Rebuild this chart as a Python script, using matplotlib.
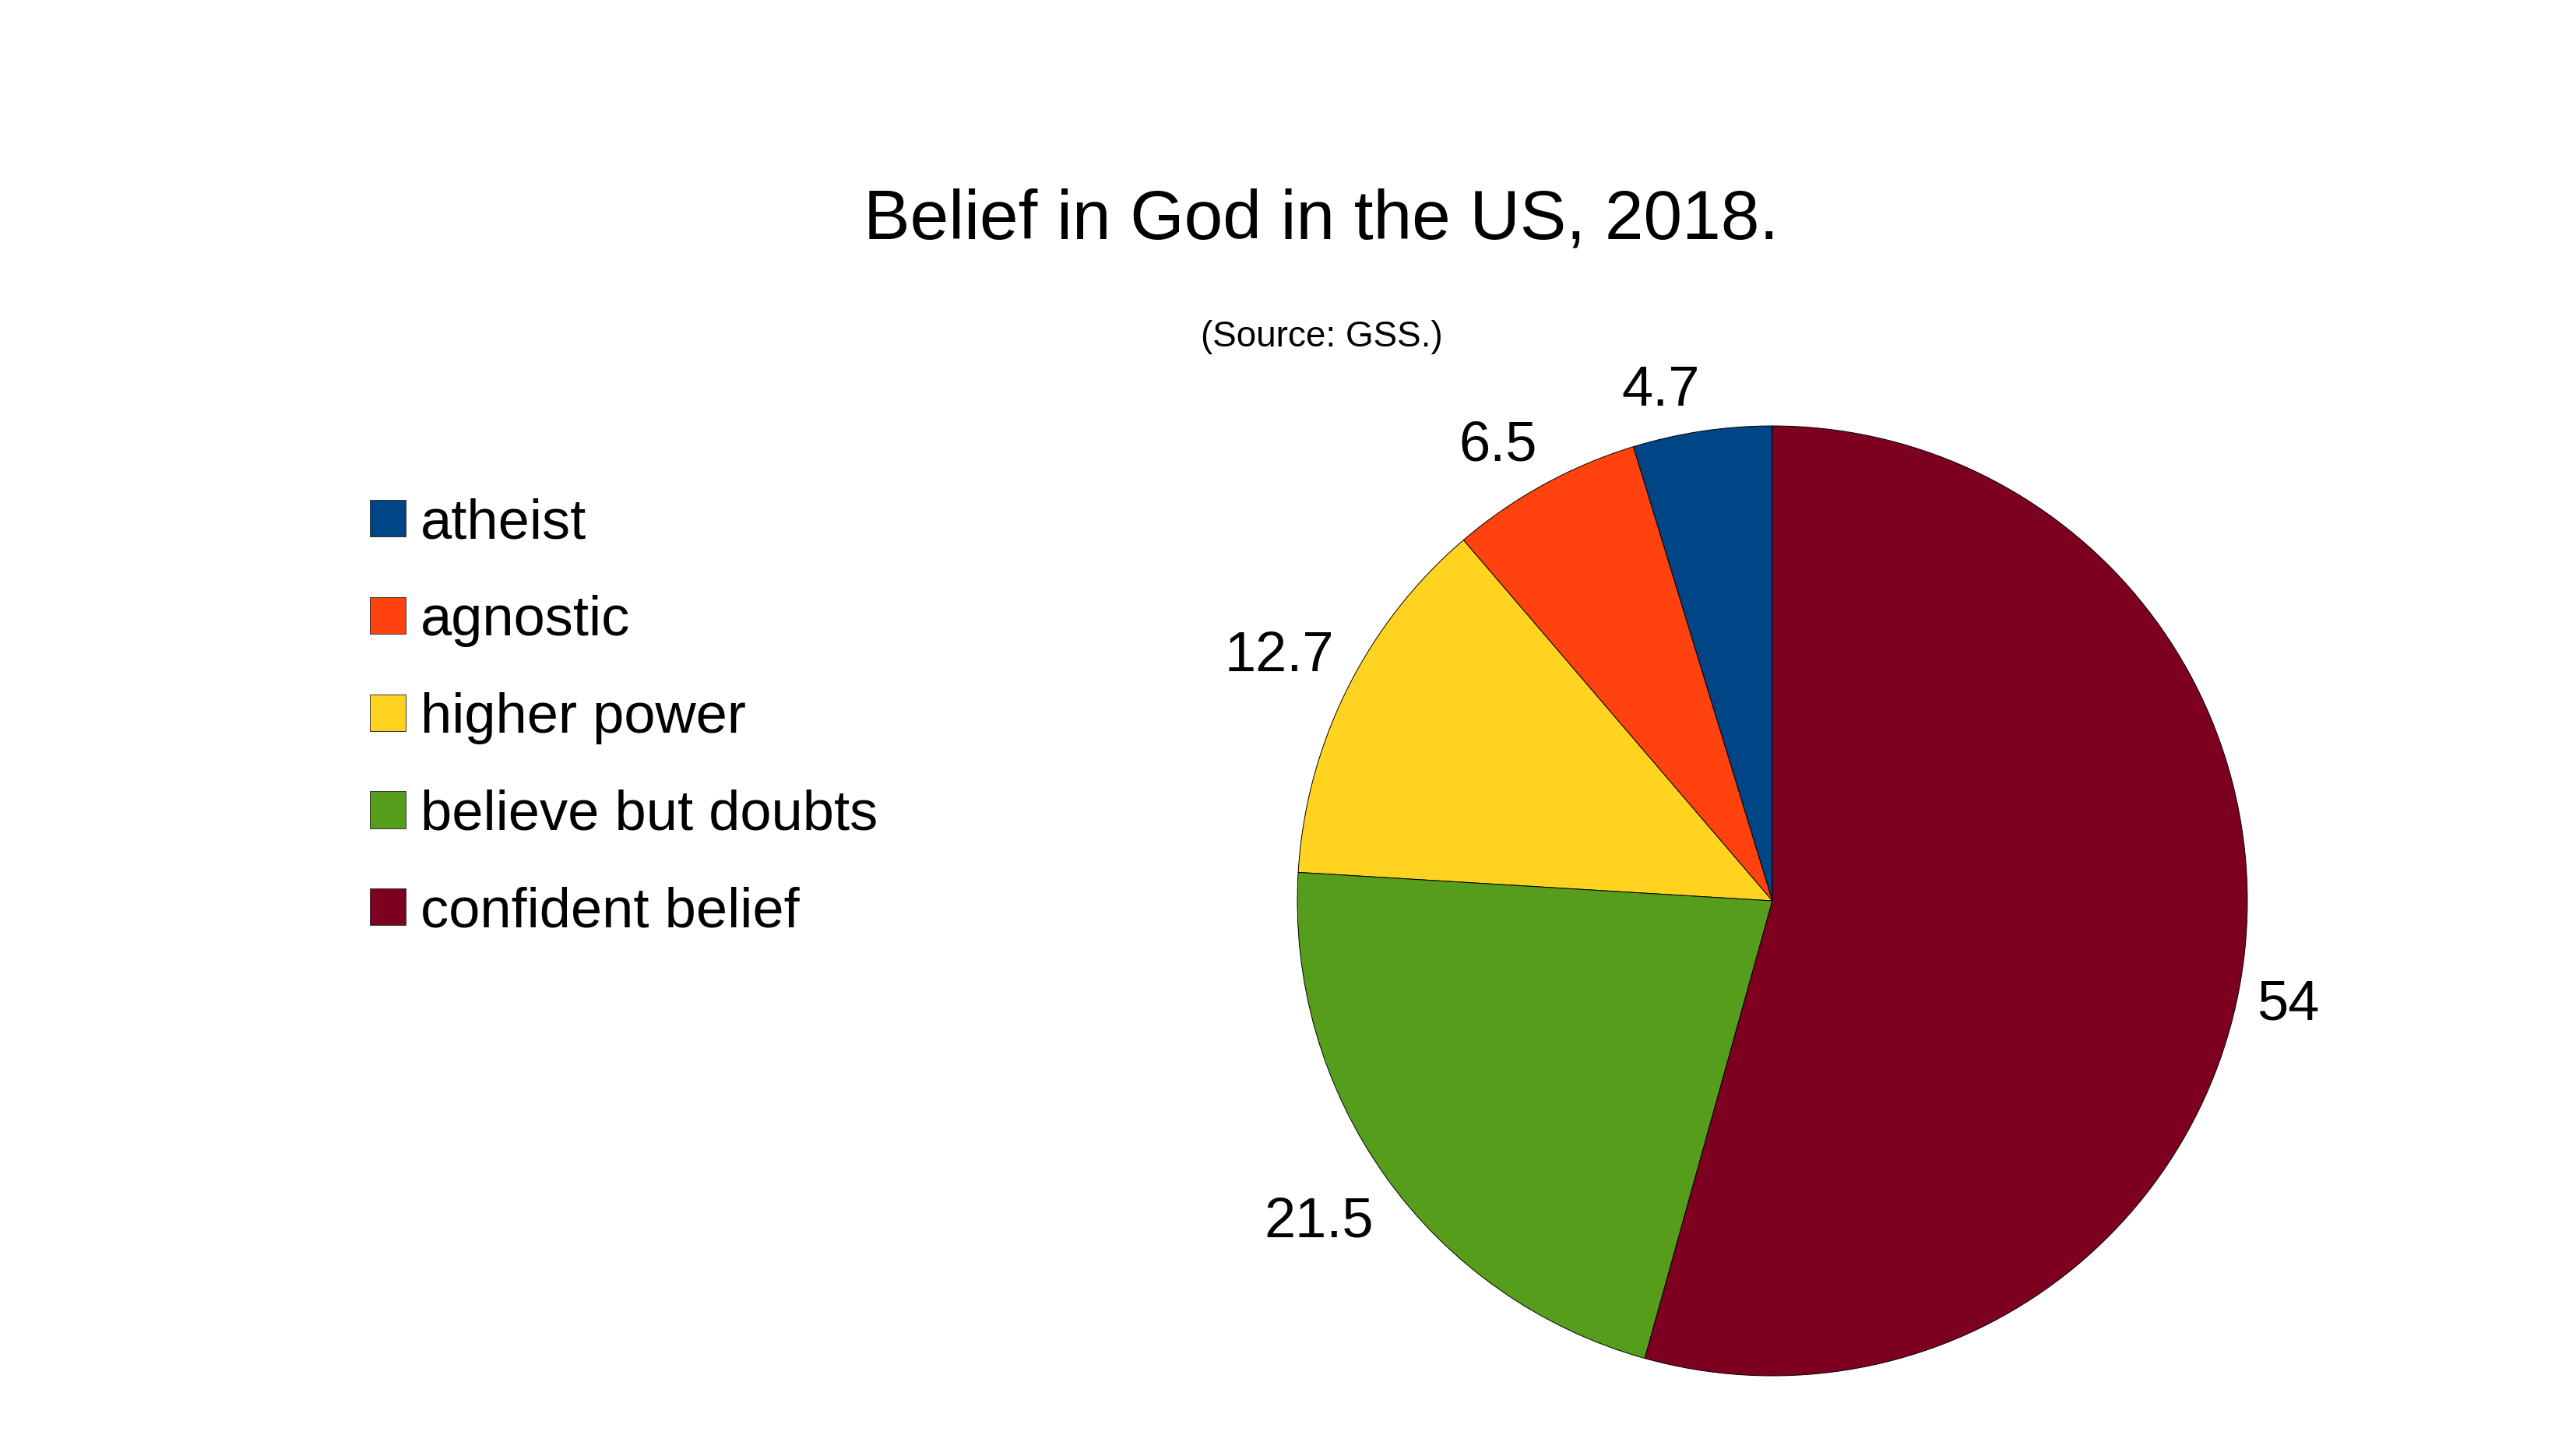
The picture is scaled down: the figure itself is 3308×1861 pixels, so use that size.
import numpy as np
import matplotlib
matplotlib.use("Agg")
import matplotlib.pyplot as plt
from matplotlib.transforms import offset_copy

plt.rcParams['font.family'] = ['Liberation Sans', 'DejaVu Sans']

# data
categories = ["atheist", "agnostic", "higher power", "believe but doubts", "confident belief"]
values = [4.7, 6.5, 12.7, 21.5, 54]
value_labels = ["4.7", "6.5", "12.7", "21.5", "54"]
colors = ["#004586", "#ff420e", "#ffd320", "#579d1c", "#7e0021"]

W, H = 3308, 1861
fig = plt.figure(figsize=(W / 100, H / 100), dpi=100)

# pie axes: centre (2276, 1157) px from top-left, radius 610 px
cx, cy, r_px = 2276, 1157, 610
lim = 1.1
side = 2 * r_px * lim
ax = fig.add_axes([(cx - side / 2) / W, (H - cy - side / 2) / H, side / W, side / H])

wedges, _ = ax.pie(values, colors=colors, startangle=90, counterclock=True,
                   wedgeprops=dict(edgecolor="black", linewidth=0.7))
ax.set_xlim(-lim, lim)
ax.set_ylim(-lim, lim)
ax.set_aspect("equal")
ax.axis("off")

# value labels: nearest corner of the text box just outside the rim
below = offset_copy(ax.transData, fig=fig, y=-15, units="dots")
for w, txt in zip(wedges, value_labels):
    mid = np.deg2rad((w.theta1 + w.theta2) / 2)
    c, s = np.cos(mid), np.sin(mid)
    ax.text(1.03 * c, 1.03 * s, txt, fontsize=52,
            ha="left" if c > 0 else "right",
            va="top" if s < 0 else "bottom",
            transform=below if s < 0 else ax.transData)

# titles
fig.text(1697 / W, 1 - 307 / H, "Belief in God in the US, 2018.", fontsize=64.3,
         ha="center", va="baseline")
fig.text(1697 / W, 1 - 445 / H, "(Source: GSS.)", fontsize=33,
         ha="center", va="baseline")

# legend
leg = fig.legend(wedges, categories, loc="upper left",
                 bbox_to_anchor=(475 / W, 1 - 639 / H),
                 frameon=False, fontsize=52, borderpad=0, borderaxespad=0,
                 handlelength=0.63, handleheight=0.63, handletextpad=0.27,
                 labelspacing=0.8)
for h in leg.legend_handles:
    h.set_edgecolor("#333333")
    h.set_linewidth(0.7)

fig.savefig("out.png", dpi=100)
